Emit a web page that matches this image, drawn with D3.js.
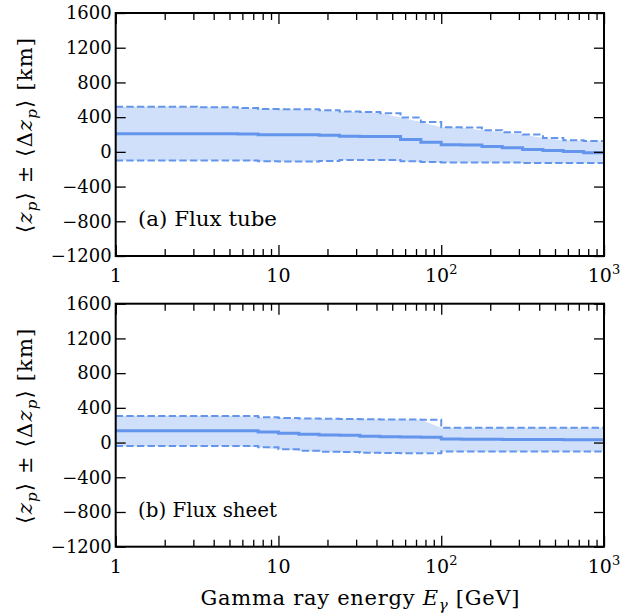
<!DOCTYPE html>
<html>
<head>
<meta charset="utf-8">
<script src="https://cdn.jsdelivr.net/npm/d3@7"></script>
<style>
html,body{margin:0;padding:0;background:#fff;}
svg{display:block;}
text{font-family:"DejaVu Serif",serif;fill:#000;}
</style>
</head>
<body>
<script>
// Bin edges (GeV), 8 per decade
const energies = [1, 1.334, 1.778, 2.371, 3.162, 4.217, 5.623, 7.499, 10, 13.34, 17.78, 23.71, 31.62, 42.17, 56.23, 74.99, 100, 133.4, 177.8, 237.1, 316.2, 421.7, 562.3, 749.9, 1000];

// Panel (a) Flux tube
const tubeMean  = [210, 210, 210, 210, 210, 210, 205, 197, 197, 196, 190, 180, 178, 176, 141, 110, 82, 78, 62, 46, 28, 15, 3, -9, -12];
const tubeUpper = [520, 520, 520, 520, 515, 515, 505, 495, 492, 490, 480, 465, 460, 445, 395, 343, 283, 280, 250, 225, 200, 160, 135, 126, 120];
const tubeLower = [-100, -100, -100, -100, -100, -100, -100, -108, -112, -112, -105, -95, -93, -93, -108, -118, -122, -122, -122, -122, -128, -128, -128, -128, -130];

// Panel (b) Flux sheet
const sheetMean  = [135, 135, 135, 135, 135, 135, 135, 122, 108, 96, 86, 84, 72, 68, 65, 62, 40, 38, 37, 36, 35, 34, 33, 32, 32];
const sheetUpper = [305, 305, 305, 305, 305, 305, 305, 292, 283, 278, 273, 272, 270, 267, 265, 263, 170, 170, 170, 170, 170, 170, 170, 170, 170];
const sheetLower = [-40, -40, -40, -40, -40, -40, -40, -55, -77, -95, -105, -108, -118, -120, -122, -123, -102, -102, -102, -102, -102, -102, -102, -102, -102];

const yTicks = [-1200, -800, -400, 0, 400, 800, 1200, 1600];
const xMajor = [1, 10, 100, 1000];
const xMajorLabels = [["1", ""], ["10", ""], ["10", "2"], ["10", "3"]];
const panelLabels = ["(a) Flux tube", "(b) Flux sheet"];

const W = 622, H = 614;
const left = 115.7, right = 604;
const panels = [
  {top: 13, bottom: 256, mean: tubeMean, upper: tubeUpper, lower: tubeLower, label: panelLabels[0]},
  {top: 303.7, bottom: 546.7, mean: sheetMean, upper: sheetUpper, lower: sheetLower, label: panelLabels[1]}
];

const lineColor = "#6495ED";
const fillColor = "#d0dffa";
const FS = 18;
const FF = "DejaVu Serif";

const svg = d3.select("body").append("svg").attr("width", W).attr("height", H);

const x = d3.scaleLog().domain([1, 1000]).range([left, right]);
const xMinor = [];
[1, 10, 100].forEach(d => { for (let m = 2; m <= 9; m++) xMinor.push(d * m); });

panels.forEach((p, pi) => {
  const y = d3.scaleLinear().domain([-1200, 1600]).range([p.bottom, p.top]);
  const g = svg.append("g");
  const clipId = "clip" + pi;
  g.append("clipPath").attr("id", clipId).append("rect")
    .attr("x", left).attr("y", p.top).attr("width", right - left).attr("height", p.bottom - p.top);
  const data = energies.map((e, i) => ({e, m: p.mean[i], u: p.upper[i], l: p.lower[i]}));
  const plot = g.append("g").attr("clip-path", `url(#${clipId})`);
  plot.append("path").datum(data)
    .attr("d", d3.area().x(d => x(d.e)).y0(d => y(d.l)).y1(d => y(d.u)).curve(d3.curveLinear))
    .attr("fill", fillColor).attr("stroke", "none");
  const stepLine = key => d3.line().x(d => x(d.e)).y(d => y(d[key])).curve(d3.curveStepAfter);
  ["u", "l"].forEach(k => {
    plot.append("path").datum(data).attr("d", stepLine(k))
      .attr("fill", "none").attr("stroke", lineColor).attr("stroke-width", 2)
      .attr("stroke-dasharray", "7.4,3.2");
  });
  plot.append("path").datum(data).attr("d", stepLine("m"))
    .attr("fill", "none").attr("stroke", lineColor).attr("stroke-width", 3);

  // y axes (inward ticks both sides)
  const yl = g.append("g").attr("transform", `translate(${left},0)`)
    .call(d3.axisLeft(y).tickValues(yTicks).tickSize(-10).tickPadding(18).tickFormat(d => d < 0 ? "\u2212" + Math.abs(d) : d));
  const yr = g.append("g").attr("transform", `translate(${right},0)`)
    .call(d3.axisRight(y).tickValues(yTicks).tickSize(-10).tickFormat(""));
  // x axes
  const xb = g.append("g").attr("transform", `translate(0,${p.bottom})`)
    .call(d3.axisBottom(x).tickValues(xMajor).tickSize(-11).tickFormat(""));
  const xbm = g.append("g").attr("transform", `translate(0,${p.bottom})`)
    .call(d3.axisBottom(x).tickValues(xMinor).tickSize(-7).tickFormat(""));
  const xt = g.append("g").attr("transform", `translate(0,${p.top})`)
    .call(d3.axisTop(x).tickValues(xMajor).tickSize(-11).tickFormat(""));
  const xtm = g.append("g").attr("transform", `translate(0,${p.top})`)
    .call(d3.axisTop(x).tickValues(xMinor).tickSize(-7).tickFormat(""));
  [yl, yr, xb, xbm, xt, xtm].forEach(a => {
    a.select(".domain").remove();
    a.attr("font-family", FF);
    a.selectAll(".tick line").attr("stroke", "#000").attr("stroke-width", 1.3);
  });
  yl.selectAll(".tick text").attr("font-size", FS).attr("font-family", FF).attr("x", -4);

  // frame
  g.append("rect").attr("x", left).attr("y", p.top).attr("width", right - left).attr("height", p.bottom - p.top)
    .attr("fill", "none").attr("stroke", "#000").attr("stroke-width", 2);

  // x tick labels
  xMajor.forEach((v, i) => {
    const t = g.append("text").attr("x", x(v)).attr("y", p.bottom + 26)
      .attr("text-anchor", "middle").attr("font-size", FS + 1);
    t.append("tspan").text(xMajorLabels[i][0]);
    if (xMajorLabels[i][1]) t.append("tspan").attr("dy", -8).attr("font-size", 13).text(xMajorLabels[i][1]);
  });

  // panel label
  g.append("text").attr("x", 138).attr("y", p.bottom - 30).attr("font-size", 20)
    .attr("textLength", 139).attr("lengthAdjust", "spacingAndGlyphs").text(p.label);

  // y label
  const cy = (p.top + p.bottom) / 2 + 1;
  const yt = g.append("text").attr("transform", `translate(32,${cy}) rotate(-90)`)
    .attr("text-anchor", "middle").attr("font-size", 21)
    .attr("textLength", 195).attr("lengthAdjust", "spacing");
  yt.append("tspan").text("\u27E8");
  yt.append("tspan").attr("font-style", "italic").text("z");
  yt.append("tspan").attr("font-size", 15).attr("dy", 5).attr("font-style", "italic").text("p");
  yt.append("tspan").attr("dy", -5).text("\u27E9");
  yt.append("tspan").text(" \u00B1 ");
  yt.append("tspan").text("\u27E8\u0394");
  yt.append("tspan").attr("font-style", "italic").text("z");
  yt.append("tspan").attr("font-size", 15).attr("dy", 5).attr("font-style", "italic").text("p");
  yt.append("tspan").attr("dy", -5).text("\u27E9");
  yt.append("tspan").text(" [km]");
});

// x label
const xl = svg.append("text").attr("x", 360).attr("y", 605).attr("text-anchor", "middle").attr("font-size", 21)
  .attr("textLength", 319).attr("lengthAdjust", "spacing");
xl.append("tspan").text("Gamma ray energy ");
xl.append("tspan").attr("font-style", "italic").text("E");
xl.append("tspan").attr("font-style", "italic").attr("font-size", 15).attr("dy", 5).text("\u03B3");
xl.append("tspan").attr("dy", -5).text(" [GeV]");
</script>
</body>
</html>
